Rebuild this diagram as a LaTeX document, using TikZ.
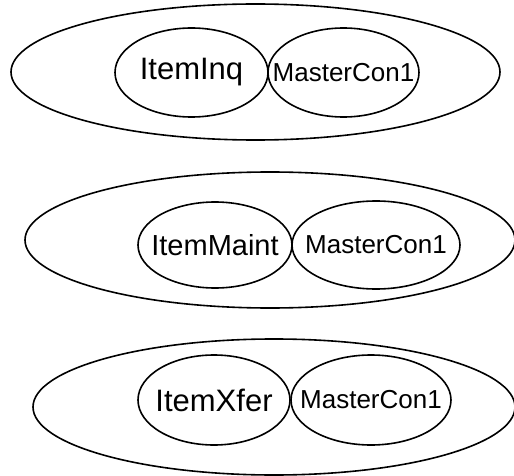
\documentclass[tikz,border=0pt]{standalone}
\usepackage{fontspec}
\setmainfont{Liberation Sans}
\usetikzlibrary{shapes.geometric}

\begin{document}
\begin{tikzpicture}[x=1pt,y=-1pt,line width=1.6pt,
  outer/.style={draw,ellipse,inner sep=0pt,minimum width=489pt,minimum height=136pt},
  part/.style={draw,ellipse,inner sep=0pt,minimum height=89pt},
  big/.style={font=\fontsize{31}{31}\selectfont},
  small/.style={font=\fontsize{26}{26}\selectfont}]
\useasboundingbox (0,0) rectangle (514,476);
% first group
\node[outer] (inqgrp) at (255.5,72) {};
\node[part,minimum width=153pt,label={[big]center:ItemInq}] (inq) at (191.5,72.5) {};
\node[part,minimum width=151pt,label={[small]center:MasterCon1}] (inqcon) at (343.5,72.5) {};
% second group
\node[outer,minimum width=490pt] (maintgrp) at (270,240) {};
\node[part,minimum width=154pt,minimum height=86pt,label={[font=\fontsize{29}{29}\selectfont]center:ItemMaint}] (maint) at (215,245) {};
\node[part,minimum width=168pt,minimum height=88pt,label={[small]center:MasterCon1}] (maintcon) at (376,245) {};
% third group
\node[outer,minimum width=482pt] (xfergrp) at (274,407) {};
\node[part,minimum width=152pt,minimum height=90pt,label={[big]center:ItemXfer}] (xfer) at (214,400) {};
\node[part,minimum width=160pt,minimum height=90pt,label={[small]center:MasterCon1}] (xfercon) at (371,400) {};
\end{tikzpicture}
\end{document}
